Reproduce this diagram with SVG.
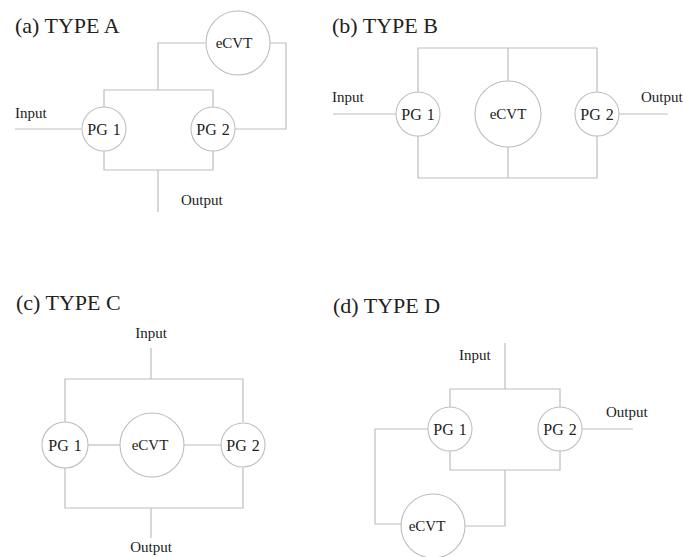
<svg xmlns="http://www.w3.org/2000/svg" width="683" height="557" viewBox="0 0 683 557">
  <style>
    .bg { fill: #ffffff; }
    .title { font-family: "Liberation Serif", "Times New Roman", serif; font-size: 22px; fill: #222; }
    .lbl { font-family: "Liberation Serif", "Times New Roman", serif; font-size: 15px; fill: #222; }
    .pg { font-size: 16px; word-spacing: 1px; }
    .mid { text-anchor: middle; }
    .node circle { fill: #ffffff; stroke: #bdbdbd; stroke-width: 1.1; }
    .wire { fill: none; stroke: #bdbdbd; stroke-width: 1.2; }
  </style>
  <rect class="bg" x="0" y="0" width="683" height="557"/>

  <!-- (a) TYPE A -->
  <text class="title" x="15" y="33">(a) TYPE A</text>
  <g id="a-connectors" class="wire">
    <path d="M205,43 H158 V90"/>
    <path d="M104,107 V90 H213 V107"/>
    <path d="M270,43 H286 V129 H235"/>
    <path d="M15,129 H81"/>
    <path d="M104,151 V170 H213 V151"/>
    <path d="M158,170 V212"/>
  </g>
  <g id="a-ecvt" class="node"><circle cx="238" cy="43" r="32"/><text class="lbl mid" x="234" y="48">eCVT</text></g>
  <g id="a-pg1" class="node"><circle cx="104" cy="129" r="22"/><text class="lbl pg mid" x="104" y="135">PG 1</text></g>
  <g id="a-pg2" class="node"><circle cx="213" cy="129" r="22"/><text class="lbl pg mid" x="213" y="135">PG 2</text></g>
  <text class="lbl" x="15" y="118">Input</text>
  <text class="lbl" x="181" y="205">Output</text>

  <!-- (b) TYPE B -->
  <text class="title" x="332" y="33">(b) TYPE B</text>
  <g id="b-connectors" class="wire">
    <path d="M418,92 V48 H597 V92"/>
    <path d="M508,48 V81"/>
    <path d="M418,136 V178 H597 V136"/>
    <path d="M508,147 V178"/>
    <path d="M333,114 H396"/>
    <path d="M619,114 H668"/>
  </g>
  <g id="b-pg1" class="node"><circle cx="418" cy="114" r="22"/><text class="lbl pg mid" x="418" y="120">PG 1</text></g>
  <g id="b-ecvt" class="node"><circle cx="508" cy="114" r="33"/><text class="lbl mid" x="508" y="119">eCVT</text></g>
  <g id="b-pg2" class="node"><circle cx="597" cy="114" r="22"/><text class="lbl pg mid" x="597" y="120">PG 2</text></g>
  <text class="lbl" x="332" y="102">Input</text>
  <text class="lbl" x="641" y="102">Output</text>

  <!-- (c) TYPE C -->
  <text class="title" x="16" y="310">(c) TYPE C</text>
  <g id="c-connectors" class="wire">
    <path d="M151,348 V379"/>
    <path d="M65,422 V379 H243 V422"/>
    <path d="M88,445 H120"/>
    <path d="M184,445 H221"/>
    <path d="M65,468 V508 H243 V468"/>
    <path d="M151,508 V538"/>
  </g>
  <g id="c-pg1" class="node"><circle cx="65" cy="445" r="23"/><text class="lbl pg mid" x="65" y="451">PG 1</text></g>
  <g id="c-ecvt" class="node"><circle cx="152" cy="445" r="32"/><text class="lbl mid" x="150" y="450">eCVT</text></g>
  <g id="c-pg2" class="node"><circle cx="243" cy="445" r="22"/><text class="lbl pg mid" x="243" y="451">PG 2</text></g>
  <text class="lbl mid" x="151" y="338">Input</text>
  <text class="lbl mid" x="151" y="552">Output</text>

  <!-- (d) TYPE D -->
  <text class="title" x="333" y="313">(d) TYPE D</text>
  <g id="d-connectors" class="wire">
    <path d="M505,343 V389"/>
    <path d="M450,407 V389 H560 V407"/>
    <path d="M582,429 H633"/>
    <path d="M450,451 V470 H560 V451"/>
    <path d="M505,470 V526 H465"/>
    <path d="M428,429 H375 V524 H402"/>
  </g>
  <g id="d-pg1" class="node"><circle cx="450" cy="429" r="22"/><text class="lbl pg mid" x="450" y="435">PG 1</text></g>
  <g id="d-pg2" class="node"><circle cx="560" cy="429" r="22"/><text class="lbl pg mid" x="560" y="435">PG 2</text></g>
  <g id="d-ecvt" class="node"><circle cx="433" cy="526" r="32"/><text class="lbl mid" x="427" y="531">eCVT</text></g>
  <text class="lbl" x="459" y="360">Input</text>
  <text class="lbl" x="606" y="417">Output</text>
</svg>
